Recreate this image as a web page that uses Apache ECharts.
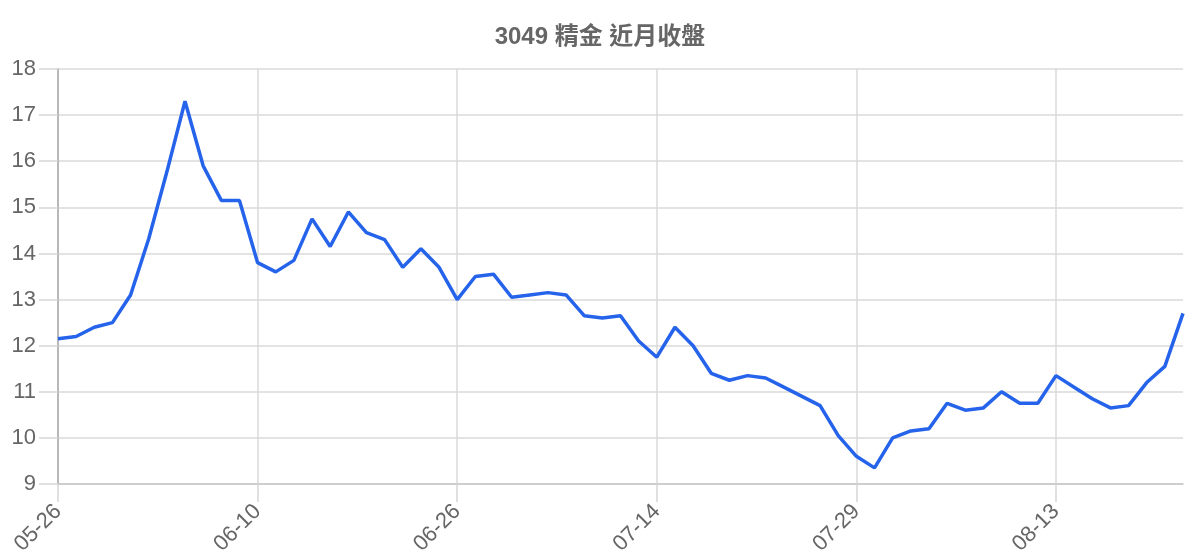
<!DOCTYPE html>
<html>
<head>
<meta charset="utf-8">
<script src="https://cdn.jsdelivr.net/npm/echarts@6/dist/echarts.min.js"></script>
<style>
html,body{margin:0;padding:0;background:#fff;}
#chart{width:1200px;height:560px;}
</style>
</head>
<body>
<div id="chart"></div>
<script>
const titleText = '3049 精金 近月收盤';
const dates = [
  '05-26','05-27','05-28','05-29','05-30','06-02','06-03','06-04','06-05','06-06','06-09',
  '06-10','06-11','06-12','06-13','06-16','06-17','06-18','06-20','06-23','06-24','06-25',
  '06-26','06-27','06-30','07-01','07-02','07-03','07-07','07-08','07-09','07-10','07-11',
  '07-14','07-15','07-16','07-17','07-18','07-21','07-22','07-23','07-24','07-25','07-28',
  '07-29','07-30','07-31','08-01','08-04','08-05','08-06','08-07','08-08','08-11','08-12',
  '08-13','08-14','08-15','08-18','08-19','08-20','08-21','08-22'
];
const closes = [
  12.15,12.2,12.4,12.5,13.1,14.32,15.77,17.3,15.9,15.15,15.15,
  13.8,13.6,13.85,14.75,14.15,14.9,14.45,14.3,13.7,14.1,13.7,
  13.0,13.5,13.55,13.05,13.1,13.15,13.1,12.65,12.6,12.65,12.1,
  11.75,12.4,12.0,11.4,11.25,11.35,11.3,11.1,10.9,10.7,10.05,
  9.6,9.35,10.0,10.15,10.2,10.75,10.6,10.65,11.0,10.75,10.75,
  11.35,11.1,10.85,10.65,10.7,11.2,11.55,12.7
];
const yMin = 9, yMax = 18, yStep = 1;
const labelEvery = 11;

const chart = echarts.init(document.getElementById('chart'), null, {renderer:'canvas'});
chart.setOption({
  animation:false,
  backgroundColor:'#ffffff',
  title:{
    text:titleText,
    left:'center',
    top:20,
    textStyle:{fontFamily:'Liberation Sans, "Noto Sans CJK TC", sans-serif',fontSize:24,fontWeight:'bold',color:'#666666'}
  },
  grid:{left:58,right:17,top:69,bottom:76,containLabel:false},
  xAxis:{
    type:'category',
    data:dates,
    boundaryGap:false,
    axisLine:{show:true,lineStyle:{color:'#c8c8c8',width:1.5}},
    axisTick:{show:true,interval:labelEvery-1,length:18,lineStyle:{color:'#d6d6d6',width:1.5}},
    axisLabel:{interval:labelEvery-1,rotate:45,margin:24,color:'#666666',fontSize:22,fontFamily:'Liberation Sans, sans-serif'},
    splitLine:{show:true,interval:labelEvery-1,lineStyle:{color:'#dadada',width:1.5}}
  },
  yAxis:{
    type:'value',
    min:yMin,max:yMax,interval:yStep,
    axisLine:{show:true,lineStyle:{color:'#aaaaaa',width:1.5}},
    axisTick:{show:true,inside:false,length:19,lineStyle:{color:'#d6d6d6',width:1.5}},
    axisLabel:{margin:22,color:'#666666',fontSize:22,fontFamily:'Liberation Sans, sans-serif'},
    splitLine:{show:true,lineStyle:{color:'#dadada',width:1.5}}
  },
  series:[{
    type:'line',
    data:closes,
    showSymbol:false,
    symbol:'none',
    smooth:false,
    lineStyle:{color:'#2563eb',width:3.5},
    itemStyle:{color:'#2563eb'}
  }]
});
</script>
</body>
</html>
